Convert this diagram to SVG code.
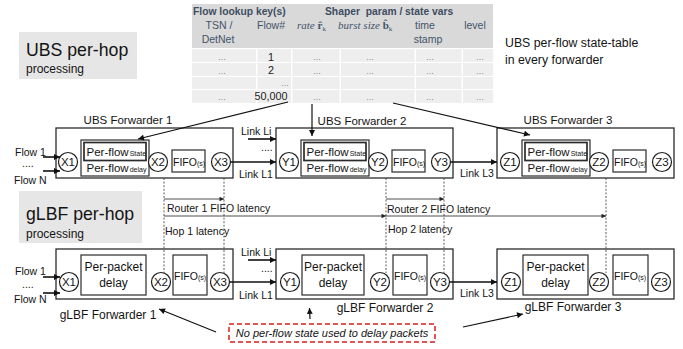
<svg xmlns="http://www.w3.org/2000/svg" width="683" height="349" viewBox="0 0 683 349">
  <style>
    text { font-family: "Liberation Sans", Arial, sans-serif; fill: #141414; }
    .fwd { fill: #fff; stroke: #2b2b2b; stroke-width: 1.3; }
    .inner { fill: #fff; stroke: #2b2b2b; stroke-width: 1.2; }
    .state { fill: #fff; stroke: #2b2b2b; stroke-width: 1.7; }
    .node { fill: #fff; stroke: #1e1e1e; stroke-width: 1.2; }
    .nl { font-size: 11.5px; text-anchor: middle; }
    .pf { font-size: 11.5px; }
    .sub { font-size: 7px; }
    .fifo { font-size: 10.5px; }
    .lbl { font-size: 11.5px; text-anchor: middle; }
    .lbl2 { font-size: 12px; text-anchor: middle; }
    .sm { font-size: 10.5px; }
    .link { stroke: #111; stroke-width: 1.6; fill: none; }
    .lat { stroke: #222; stroke-width: 0.8; fill: none; }
    .dot { stroke: #333; stroke-width: 0.8; stroke-dasharray: 2 1.6; fill: none; }
    .ptr { stroke: #111; stroke-width: 1.2; fill: none; }
    .hd { font-size: 10.3px; font-weight: bold; fill: #3e4d61; }
    .hn { font-size: 10.5px; fill: #44546a; }
    .mth { font-family: "Liberation Serif", "Times New Roman", serif; font-size: 11px; fill: #44546a; }
    .cell { fill: #eeeeee; }
    .el { font-size: 8px; fill: #555; text-anchor: middle; }
    .num { font-size: 10.8px; fill: #222; text-anchor: middle; }
  </style>
  <defs>
    <marker id="ah" viewBox="0 0 10 10" refX="10" refY="5" markerUnits="userSpaceOnUse" markerWidth="7" markerHeight="6" orient="auto">
      <path d="M0,0 L10,5 L0,10 z" fill="#111"/>
    </marker>
    <marker id="ahs" viewBox="0 0 10 10" refX="10" refY="5" markerUnits="userSpaceOnUse" markerWidth="6" markerHeight="4.5" orient="auto">
      <path d="M0,0 L10,5 L0,10 z" fill="#222"/>
    </marker>
  </defs>

  <!-- section titles -->
  <g id="title-ubs">
    <rect x="19" y="32" width="118" height="47" fill="#e6e6e6"/>
    <text x="26" y="55.5" font-size="17.7">UBS per-hop</text>
    <text x="26" y="73" font-size="12">processing</text>
  </g>
  <g id="title-glbf">
    <rect x="19" y="191" width="123" height="52" fill="#e6e6e6"/>
    <text x="26" y="219.5" font-size="17.7">gLBF per-hop</text>
    <text x="26" y="237.5" font-size="12">processing</text>
  </g>

  <!-- per-flow state table -->
  <g id="state-table">
    <rect x="192" y="4" width="301" height="44" fill="#d9d9d9"/>
    <text class="hd" x="193" y="15">Flow lookup key(s)</text>
    <text class="hd" x="325" y="15" xml:space="preserve">Shaper  param / state vars</text>
    <text class="hn" x="219" y="29" text-anchor="middle">TSN /</text>
    <text class="hn" x="218" y="43" text-anchor="middle">DetNet</text>
    <text class="hn" x="257" y="29">Flow#</text>
    <text class="mth" x="297" y="29"><tspan font-style="italic">rate </tspan><tspan font-weight="bold">r̂</tspan><tspan font-size="7" dy="1.5">k</tspan></text>
    <text class="mth" x="338" y="29"><tspan font-style="italic">burst size </tspan><tspan font-weight="bold">b̂</tspan><tspan font-size="7" dy="1.5">k</tspan></text>
    <text class="hn" x="425" y="29" text-anchor="middle">time</text>
    <text class="hn" x="428" y="43" text-anchor="middle">stamp</text>
    <text class="hn" x="475" y="29" text-anchor="middle">level</text>

    <g id="table-cells">
      <rect class="cell" x="192" y="49" width="64" height="13"/>
      <rect class="cell" x="257.5" y="49" width="33.5" height="13"/>
      <rect class="cell" x="292.5" y="49" width="47" height="13"/>
      <rect class="cell" x="341" y="49" width="73.5" height="13"/>
      <rect class="cell" x="416" y="49" width="45.5" height="13"/>
      <rect class="cell" x="463" y="49" width="30" height="13"/>

      <rect class="cell" x="192" y="63" width="64" height="13"/>
      <rect class="cell" x="257.5" y="63" width="33.5" height="13"/>
      <rect class="cell" x="292.5" y="63" width="47" height="13"/>
      <rect class="cell" x="341" y="63" width="73.5" height="13"/>
      <rect class="cell" x="416" y="63" width="45.5" height="13"/>
      <rect class="cell" x="463" y="63" width="30" height="13"/>

      <rect class="cell" x="192" y="77" width="64" height="12"/>
      <rect class="cell" x="257.5" y="77" width="33.5" height="12"/>
      <rect class="cell" x="292.5" y="77" width="47" height="12"/>
      <rect class="cell" x="341" y="77" width="73.5" height="12"/>
      <rect class="cell" x="416" y="77" width="45.5" height="12"/>
      <rect class="cell" x="463" y="77" width="30" height="12"/>

      <rect class="cell" x="192" y="90" width="64" height="13"/>
      <rect class="cell" x="257.5" y="90" width="33.5" height="13"/>
      <rect class="cell" x="292.5" y="90" width="47" height="13"/>
      <rect class="cell" x="341" y="90" width="73.5" height="13"/>
      <rect class="cell" x="416" y="90" width="45.5" height="13"/>
      <rect class="cell" x="463" y="90" width="30" height="13"/>
    </g>

    <text class="el" x="222" y="60">…</text>
    <text class="num" x="271" y="60.5">1</text>
    <text class="el" x="317" y="60">…</text>
    <text class="el" x="370" y="60">…</text>
    <text class="el" x="430" y="60">…</text>
    <text class="el" x="480" y="60">…</text>

    <text class="el" x="222" y="74">…</text>
    <text class="num" x="271" y="74">2</text>
    <text class="el" x="317" y="74">…</text>
    <text class="el" x="370" y="74">…</text>
    <text class="el" x="430" y="74">…</text>
    <text class="el" x="480" y="74">…</text>

    <text class="el" x="285" y="86">…</text>

    <text class="el" x="222" y="100">…</text>
    <text class="num" x="271" y="100">50,000</text>
    <text class="el" x="317" y="100">…</text>
    <text class="el" x="370" y="100">…</text>
    <text class="el" x="430" y="100">…</text>
    <text class="el" x="480" y="100">…</text>
  </g>

  <g id="table-note">
    <text x="505" y="47" font-size="12.3">UBS per-flow state-table</text>
    <text x="505" y="64" font-size="12.3">in every forwarder</text>
  </g>

  <!-- UBS forwarders -->
  <g id="ubs-fwd1" transform="translate(56,0)">
    <rect class="fwd" x="0" y="128" width="177" height="50"/>
    <circle class="node" cx="12" cy="162" r="9.5"/>
    <text class="nl" x="12" y="166">X1</text>
    <rect class="inner" x="25" y="140" width="68" height="36"/>
    <rect class="state" x="28" y="142.5" width="62" height="18"/>
    <text class="pf" x="30.5" y="155.5">Per-flow<tspan class="sub" dx="1">State</tspan></text>
    <text class="pf" x="30.5" y="172">Per-flow<tspan class="sub" dx="1">delay</tspan></text>
    <circle class="node" cx="102" cy="162" r="9.5"/>
    <text class="nl" x="102" y="166">X2</text>
    <rect class="inner" x="116" y="150" width="33" height="22"/>
    <text class="fifo" x="117" y="165.5">FIFO<tspan class="sub">(s)</tspan></text>
    <circle class="node" cx="165" cy="162" r="9.5"/>
    <text class="nl" x="165" y="166">X3</text>
  </g>
  <g id="ubs-fwd2" transform="translate(276,0)">
    <rect class="fwd" x="0" y="128" width="177" height="50"/>
    <circle class="node" cx="13" cy="162" r="9.5"/>
    <text class="nl" x="13" y="166">Y1</text>
    <rect class="inner" x="25" y="140" width="68" height="36"/>
    <rect class="state" x="28" y="142.5" width="62" height="18"/>
    <text class="pf" x="30.5" y="155.5">Per-flow<tspan class="sub" dx="1">State</tspan></text>
    <text class="pf" x="30.5" y="172">Per-flow<tspan class="sub" dx="1">delay</tspan></text>
    <circle class="node" cx="102" cy="162" r="9.5"/>
    <text class="nl" x="102" y="166">Y2</text>
    <rect class="inner" x="116" y="150" width="33" height="22"/>
    <text class="fifo" x="117" y="165.5">FIFO<tspan class="sub">(s)</tspan></text>
    <circle class="node" cx="165" cy="162" r="9.5"/>
    <text class="nl" x="165" y="166">Y3</text>
  </g>
  <g id="ubs-fwd3" transform="translate(497,0)">
    <rect class="fwd" x="0" y="128" width="177" height="50"/>
    <circle class="node" cx="13" cy="162" r="9.5"/>
    <text class="nl" x="13" y="166">Z1</text>
    <rect class="inner" x="25" y="140" width="68" height="36"/>
    <rect class="state" x="28" y="142.5" width="62" height="18"/>
    <text class="pf" x="30.5" y="155.5">Per-flow<tspan class="sub" dx="1">State</tspan></text>
    <text class="pf" x="30.5" y="172">Per-flow<tspan class="sub" dx="1">delay</tspan></text>
    <circle class="node" cx="102" cy="162" r="9.5"/>
    <text class="nl" x="102" y="166">Z2</text>
    <rect class="inner" x="116" y="150" width="33" height="22"/>
    <text class="fifo" x="117" y="165.5">FIFO<tspan class="sub">(s)</tspan></text>
    <circle class="node" cx="165" cy="162" r="9.5"/>
    <text class="nl" x="165" y="166">Z3</text>
  </g>

  <!-- gLBF forwarders -->
  <g id="glbf-fwd1" transform="translate(56,0)">
    <rect class="fwd" x="0" y="249" width="177" height="50"/>
    <circle class="node" cx="13" cy="282" r="9.5"/>
    <text class="nl" x="13" y="286">X1</text>
    <rect class="inner" x="25" y="255" width="65" height="40"/>
    <text class="lbl2" x="57.5" y="271">Per-packet</text>
    <text class="lbl2" x="57.5" y="287">delay</text>
    <circle class="node" cx="105" cy="282" r="9.5"/>
    <text class="nl" x="105" y="286">X2</text>
    <rect class="inner" x="117" y="255" width="34" height="40"/>
    <text class="fifo" x="118" y="280">FIFO<tspan class="sub">(s)</tspan></text>
    <circle class="node" cx="164" cy="282" r="9.5"/>
    <text class="nl" x="164" y="286">X3</text>
  </g>
  <g id="glbf-fwd2" transform="translate(276,0)">
    <rect class="fwd" x="0" y="249" width="177" height="50"/>
    <circle class="node" cx="14" cy="282" r="9.5"/>
    <text class="nl" x="14" y="286">Y1</text>
    <rect class="inner" x="26" y="255" width="62" height="40"/>
    <text class="lbl2" x="57" y="271">Per-packet</text>
    <text class="lbl2" x="57" y="287">delay</text>
    <circle class="node" cx="104" cy="282" r="9.5"/>
    <text class="nl" x="104" y="286">Y2</text>
    <rect class="inner" x="117" y="255" width="34" height="40"/>
    <text class="fifo" x="118" y="280">FIFO<tspan class="sub">(s)</tspan></text>
    <circle class="node" cx="164" cy="282" r="9.5"/>
    <text class="nl" x="164" y="286">Y3</text>
  </g>
  <g id="glbf-fwd3" transform="translate(497,0)">
    <rect class="fwd" x="0" y="249" width="177" height="50"/>
    <circle class="node" cx="14" cy="282" r="9.5"/>
    <text class="nl" x="14" y="286">Z1</text>
    <rect class="inner" x="26" y="255" width="65" height="40"/>
    <text class="lbl2" x="58.5" y="271">Per-packet</text>
    <text class="lbl2" x="58.5" y="287">delay</text>
    <circle class="node" cx="102" cy="282" r="9.5"/>
    <text class="nl" x="102" y="286">Z2</text>
    <rect class="inner" x="116" y="255" width="35" height="40"/>
    <text class="fifo" x="117" y="280">FIFO<tspan class="sub">(s)</tspan></text>
    <circle class="node" cx="164" cy="282" r="9.5"/>
    <text class="nl" x="164" y="286">Z3</text>
  </g>

  <!-- forwarder captions -->
  <g id="captions">
    <text class="lbl" x="128" y="124">UBS Forwarder 1</text>
    <text class="lbl" x="362" y="125">UBS Forwarder 2</text>
    <text class="lbl" x="568" y="124">UBS Forwarder 3</text>
    <text class="lbl2" x="108" y="319">gLBF Forwarder 1</text>
    <text class="lbl2" x="385" y="312">gLBF Forwarder 2</text>
    <text class="lbl2" x="573" y="311">gLBF Forwarder 3</text>
  </g>

  <!-- note box -->
  <g id="note">
    <rect x="229" y="324" width="206" height="18" fill="#fff" stroke="#e01b1b" stroke-width="1.5" stroke-dasharray="5 3"/>
    <text x="332" y="337" font-size="11" font-style="italic" text-anchor="middle">No per-flow state used to delay packets</text>
  </g>

  <!-- connectors -->
  <g id="connectors">
    <!-- table to UBS forwarders -->
    <line class="ptr" x1="288" y1="102" x2="138" y2="139" marker-end="url(#ah)"/>
    <line class="ptr" x1="312" y1="104" x2="312" y2="136" marker-end="url(#ah)"/>
    <line class="ptr" x1="393" y1="103" x2="530" y2="135" marker-end="url(#ah)"/>

    <!-- UBS inputs and links -->
    <line class="link" x1="43" y1="157" x2="60" y2="157" marker-end="url(#ah)"/>
    <line class="link" x1="43" y1="171" x2="60" y2="171" marker-end="url(#ah)"/>
    <line class="link" x1="230.5" y1="162" x2="276" y2="162" marker-end="url(#ah)"/>
    <line class="link" x1="248" y1="139" x2="276" y2="139" marker-end="url(#ah)"/>
    <line class="link" x1="450.5" y1="162" x2="497" y2="162" marker-end="url(#ah)"/>

    <!-- gLBF inputs and links -->
    <line class="link" x1="43" y1="277" x2="60" y2="277" marker-end="url(#ah)"/>
    <line class="link" x1="43" y1="293" x2="60" y2="293" marker-end="url(#ah)"/>
    <line class="link" x1="229.5" y1="282" x2="276" y2="282" marker-end="url(#ah)"/>
    <line class="link" x1="248" y1="260" x2="276" y2="260" marker-end="url(#ah)"/>
    <line class="link" x1="449.5" y1="282" x2="497" y2="282" marker-end="url(#ah)"/>

    <!-- latency markers -->
    <line class="dot" x1="164" y1="178" x2="164" y2="274"/>
    <line class="dot" x1="224" y1="178" x2="224" y2="273"/>
    <line class="dot" x1="386" y1="178" x2="386" y2="273"/>
    <line class="dot" x1="444" y1="178" x2="444" y2="273"/>
    <line class="dot" x1="606" y1="178" x2="606" y2="273"/>
    <line class="lat" x1="164" y1="199" x2="224" y2="199" marker-end="url(#ahs)"/>
    <line class="lat" x1="386" y1="199" x2="444" y2="199" marker-end="url(#ahs)"/>
    <line class="lat" x1="164" y1="216" x2="386" y2="216" marker-end="url(#ahs)"/>
    <line class="lat" x1="386" y1="216" x2="606" y2="216" marker-end="url(#ahs)"/>

    <!-- note pointers -->
    <line class="ptr" x1="216" y1="332" x2="159" y2="309" marker-end="url(#ah)"/>
    <line class="ptr" x1="310" y1="319" x2="309.5" y2="308" marker-end="url(#ah)"/>
    <line class="ptr" x1="463" y1="327" x2="523" y2="314" marker-end="url(#ah)"/>
  </g>

  <!-- connector labels -->
  <g id="connector-labels">
    <text class="sm" x="15" y="156">Flow 1</text>
    <text class="sm" x="22" y="167">....</text>
    <text class="sm" x="14" y="184">Flow N</text>
    <text class="sm" x="15" y="275">Flow 1</text>
    <text class="sm" x="22" y="288">....</text>
    <text class="sm" x="14" y="303">Flow N</text>

    <text class="sm" x="241" y="135">Link Li</text>
    <text class="sm" x="261" y="151">....</text>
    <text class="sm" x="239" y="178">Link L1</text>
    <text class="sm" x="460" y="177">Link L3</text>

    <text class="sm" x="241" y="256">Link Li</text>
    <text class="sm" x="261" y="272">....</text>
    <text class="sm" x="239" y="299">Link L1</text>
    <text class="sm" x="460" y="297">Link L3</text>

    <text class="sm" x="167" y="212">Router 1 FIFO latency</text>
    <text class="sm" x="387" y="213">Router 2 FIFO latency</text>
    <text class="sm" x="165" y="235">Hop 1 latency</text>
    <text class="sm" x="388" y="233">Hop 2 latency</text>
  </g>
</svg>
